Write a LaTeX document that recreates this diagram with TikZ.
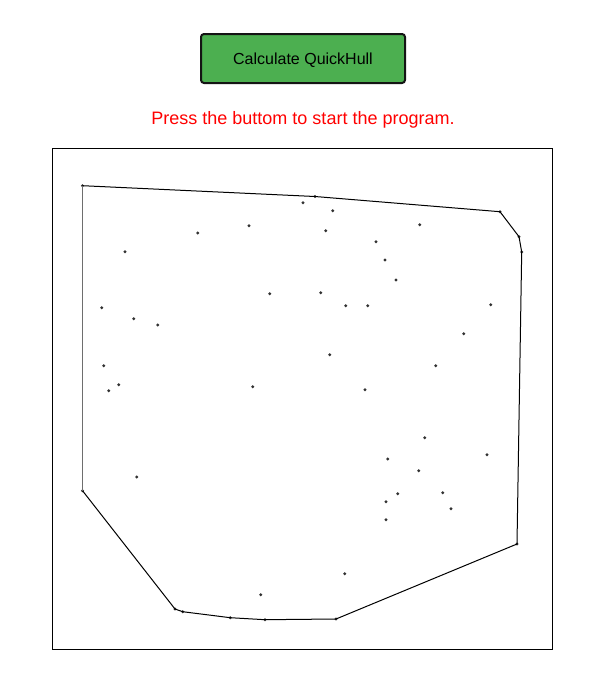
\documentclass[tikz,border=0pt]{standalone}
\usepackage{fontspec}
\setmainfont{Liberation Sans}
\definecolor{btngreen}{RGB}{76,175,80}
\definecolor{btnborder}{RGB}{20,20,20}
\definecolor{msgred}{RGB}{255,0,0}
\definecolor{dotgray}{RGB}{50,50,50}
\definecolor{edgegray}{RGB}{110,110,110}
\tikzset{
  btn/.style={draw=btnborder, line width=2pt, fill=btngreen, rounded corners=3pt,
    minimum width=204pt, minimum height=49pt, inner sep=0pt,
    text height=12pt, text depth=1pt,
    font=\fontsize{16}{19}\selectfont, text=black},
  msg/.style={font=\fontsize{18}{21}\selectfont, text=msgred, inner sep=0pt,
    text height=13pt, text depth=0pt},
  pt/.style={circle, fill=dotgray, draw=none, minimum size=3.2pt, inner sep=0pt},
  hull/.style={draw=black, line width=1pt},
  hullgray/.style={draw=edgegray, line width=1.8pt},
  canvasbox/.style={draw=black, line width=1pt}
}
\begin{document}
\begin{tikzpicture}[x=1pt,y=-1pt]
\useasboundingbox (0,0) rectangle (606,697);
% canvas
\draw[canvasbox] (52.5,148.5) rectangle (552.5,649);
% button and message
\node[btn] (btn) at (303,58.5) {Calculate QuickHull};
\node[msg] (msg) at (303,118) {Press the buttom to start the program.};
% hull vertices
\node[pt] (h1) at (82.5,185.7) {};
\node[pt] (h2) at (315,196.5) {};
\node[pt] (h3) at (500,211.7) {};
\node[pt] (h4) at (519,236.7) {};
\node[pt] (h5) at (521.7,252) {};
\node[pt] (h6) at (517,544) {};
\node[pt] (h7) at (336,619) {};
\node[pt] (h8) at (265,619.7) {};
\node[pt] (h9) at (230.3,617.7) {};
\node[pt] (h10) at (182.7,611.7) {};
\node[pt] (h11) at (175,609) {};
\node[pt] (h12) at (82.5,490.7) {};
% hull edges
\draw[hull] (h1.center) -- (h2.center) -- (h3.center) -- (h4.center) -- (h5.center) -- (h6.center)
  -- (h7.center) -- (h8.center) -- (h9.center) -- (h10.center) -- (h11.center) -- (h12.center);
\draw[hullgray] (h12.center) -- (h1.center);
% interior points
\node[pt] (p1) at (303,202.7) {};
\node[pt] (p2) at (249,225.7) {};
\node[pt] (p3) at (197.7,233) {};
\node[pt] (p4) at (125,251.7) {};
\node[pt] (p5) at (269.7,293.7) {};
\node[pt] (p6) at (101.7,307.7) {};
\node[pt] (p7) at (133.7,318.7) {};
\node[pt] (p8) at (157.7,325) {};
\node[pt] (p9) at (103.7,365.7) {};
\node[pt] (p10) at (118.7,384.7) {};
\node[pt] (p11) at (108.7,390.7) {};
\node[pt] (p12) at (252.7,386.7) {};
\node[pt] (p13) at (332.7,210.7) {};
\node[pt] (p14) at (325.7,230.7) {};
\node[pt] (p15) at (419.7,224.7) {};
\node[pt] (p16) at (376,241.7) {};
\node[pt] (p17) at (385,260) {};
\node[pt] (p18) at (396,280) {};
\node[pt] (p19) at (320.7,292.7) {};
\node[pt] (p20) at (345.7,305.7) {};
\node[pt] (p21) at (367.7,305.7) {};
\node[pt] (p22) at (490.7,304.7) {};
\node[pt] (p23) at (463.7,333.7) {};
\node[pt] (p24) at (329.7,354.7) {};
\node[pt] (p25) at (435.7,365.7) {};
\node[pt] (p26) at (365,389.7) {};
\node[pt] (p27) at (136.7,477) {};
\node[pt] (p28) at (260.7,594.7) {};
\node[pt] (p29) at (424.7,437.7) {};
\node[pt] (p30) at (487,454.7) {};
\node[pt] (p31) at (387.7,459) {};
\node[pt] (p32) at (418.7,470.7) {};
\node[pt] (p33) at (397.7,493.7) {};
\node[pt] (p34) at (442.7,492.7) {};
\node[pt] (p35) at (386,501.7) {};
\node[pt] (p36) at (451,508.7) {};
\node[pt] (p37) at (386,519.7) {};
\node[pt] (p38) at (344.7,573.7) {};
\end{tikzpicture}
\end{document}
